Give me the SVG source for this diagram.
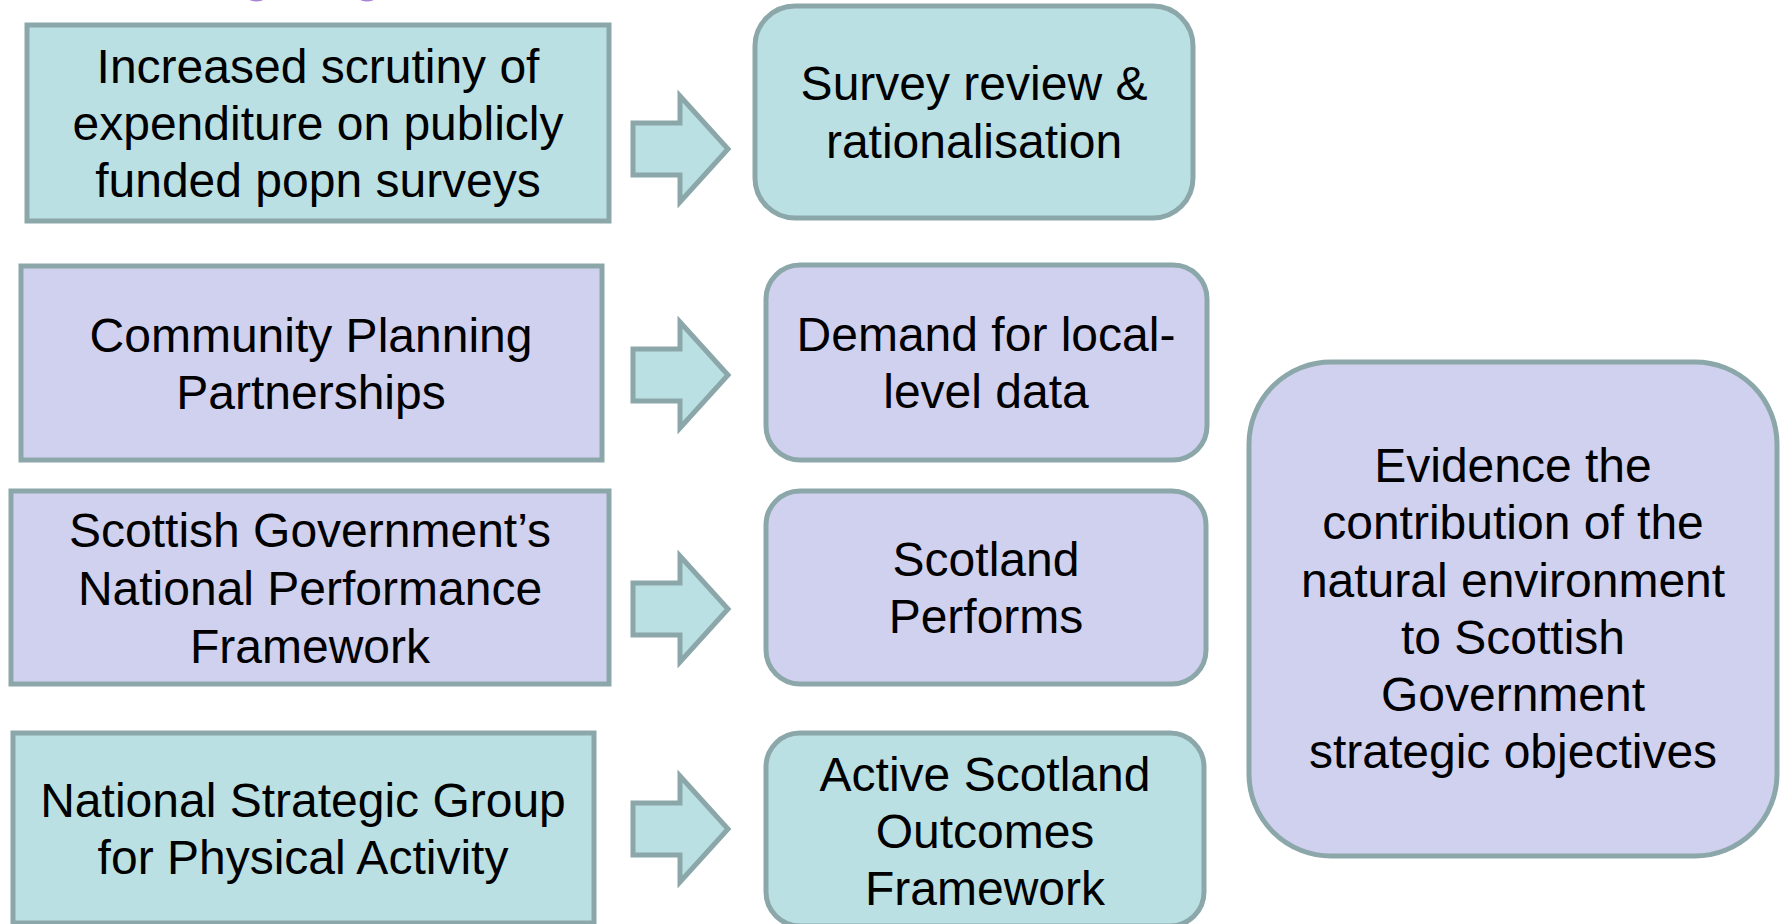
<svg xmlns="http://www.w3.org/2000/svg" width="1787" height="924" viewBox="0 0 1787 924">
  <style>
    .teal { fill: #BBE0E3; stroke: #8CA7A9; stroke-width: 5; }
    .lilac { fill: #D0D1EE; stroke: #8CA7A9; stroke-width: 5; }
    .arrow { fill: #BBE0E3; stroke: #8CA7A9; stroke-width: 5; stroke-linejoin: miter; }
    text { font-family: "Liberation Sans", Arial, sans-serif; font-size: 48px; fill: #000; text-anchor: middle; }
  </style>
  <defs>
    <!-- block arrow centred on y=0, spanning x 633..728 -->
    <path id="blockArrow" d="M633,-26 H680 V-53 L728,0 L680,53 V26 H633 Z"/>
  </defs>
  <rect width="1787" height="924" fill="#FFFFFF"/>

  <!-- title descenders clipped at the top edge -->
  <g id="title-fragments" fill="#A982D6">
    <ellipse cx="256.5" cy="-1" rx="7" ry="2.5"/>
    <ellipse cx="367" cy="-1" rx="7" ry="2.5"/>
  </g>

  <g id="connectors">
    <use href="#blockArrow" class="arrow" transform="translate(0,149)"/>
    <use href="#blockArrow" class="arrow" transform="translate(0,375)"/>
    <use href="#blockArrow" class="arrow" transform="translate(0,609)"/>
    <use href="#blockArrow" class="arrow" transform="translate(0,829)"/>
  </g>

  <g id="scrutiny">
    <rect class="teal" x="27" y="25" width="582" height="196"/>
    <text x="318" y="83">Increased scrutiny of</text>
    <text x="318" y="140">expenditure on publicly</text>
    <text x="318" y="197">funded popn surveys</text>
  </g>

  <g id="survey-review">
    <rect class="teal" x="755" y="6" width="438" height="212" rx="40"/>
    <text x="974" y="100">Survey review &amp;</text>
    <text x="974" y="158">rationalisation</text>
  </g>

  <g id="community-planning">
    <rect class="lilac" x="21" y="266" width="581" height="194"/>
    <text x="311" y="352">Community Planning</text>
    <text x="311" y="409">Partnerships</text>
  </g>

  <g id="local-data">
    <rect class="lilac" x="766" y="265" width="441" height="195" rx="34"/>
    <text x="986" y="351">Demand for local-</text>
    <text x="986" y="408">level data</text>
  </g>

  <g id="national-performance">
    <rect class="lilac" x="11" y="491" width="598" height="193"/>
    <text x="310" y="547">Scottish Government’s</text>
    <text x="310" y="605">National Performance</text>
    <text x="310" y="663">Framework</text>
  </g>

  <g id="scotland-performs">
    <rect class="lilac" x="766" y="491" width="440" height="193" rx="34"/>
    <text x="986" y="576">Scotland</text>
    <text x="986" y="633">Performs</text>
  </g>

  <g id="physical-activity">
    <rect class="teal" x="13" y="733" width="581" height="190"/>
    <text x="303" y="817">National Strategic Group</text>
    <text x="303" y="874">for Physical Activity</text>
  </g>

  <g id="active-scotland">
    <rect class="teal" x="766" y="733" width="438" height="193" rx="34"/>
    <text x="985" y="791">Active Scotland</text>
    <text x="985" y="848">Outcomes</text>
    <text x="985" y="905">Framework</text>
  </g>

  <g id="evidence">
    <rect class="lilac" x="1249" y="362" width="528" height="494" rx="82"/>
    <text x="1513" y="482">Evidence the</text>
    <text x="1513" y="539">contribution of the</text>
    <text x="1513" y="597">natural environment</text>
    <text x="1513" y="654">to Scottish</text>
    <text x="1513" y="711">Government</text>
    <text x="1513" y="768">strategic objectives</text>
  </g>
</svg>
